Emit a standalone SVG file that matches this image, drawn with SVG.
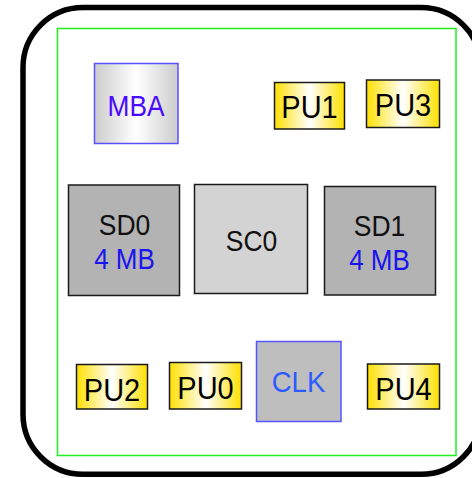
<svg xmlns="http://www.w3.org/2000/svg" width="472" height="478" viewBox="0 0 472 478">
  <defs>
    <linearGradient id="gradGold" x1="0" y1="0" x2="1" y2="0">
      <stop offset="0" stop-color="#ffe000"/>
      <stop offset="0.5" stop-color="#ffffff"/>
      <stop offset="1" stop-color="#ffe000"/>
    </linearGradient>
    <linearGradient id="gradSilver" x1="0" y1="0" x2="1" y2="0">
      <stop offset="0" stop-color="#cccccc"/>
      <stop offset="0.5" stop-color="#ffffff"/>
      <stop offset="1" stop-color="#cccccc"/>
    </linearGradient>
  </defs>
  <style>
    text { font-family: "Liberation Sans", Arial, sans-serif; text-anchor: middle; }
    .pu rect { fill: url(#gradGold); stroke: #1a1a1a; stroke-width: 1.5; }
    .pu text { font-size: 29px; fill: #000000; }
    .sd rect { fill: #b3b3b3; stroke: #1a1a1a; stroke-width: 1.5; }
    .lbl { font-size: 26.5px; fill: #111111; }
    .cap { font-size: 26px; fill: #1a14f0; }
  </style>

  <!-- board outline -->
  <rect x="23" y="7.5" width="458" height="466.8" rx="60" ry="60" fill="#ffffff" stroke="#000000" stroke-width="5.5"/>
  <!-- placement area -->
  <rect x="57.5" y="28.5" width="398.5" height="427" fill="none" stroke="#1ef01e" stroke-width="1.5"/>

  <g id="connectors"></g>

  <!-- labels are drawn slightly tall: each text sits at its baseline point, stretched vertically -->
  <g id="MBA">
    <rect x="94.5" y="63.5" width="83.5" height="80" fill="url(#gradSilver)" stroke="#5a50ff" stroke-width="1.5"/>
    <text transform="translate(136,116) scale(1,1.1)" font-size="27" fill="#4a0aff" textLength="57" lengthAdjust="spacingAndGlyphs">MBA</text>
  </g>

  <g id="PU1" class="pu">
    <rect x="274.5" y="82.5" width="70" height="46.5"/>
    <text transform="translate(309.5,118) scale(1,1.1)">PU1</text>
  </g>

  <g id="PU3" class="pu">
    <rect x="366.5" y="80" width="73" height="47.5"/>
    <text transform="translate(403,115.5) scale(1,1.1)">PU3</text>
  </g>

  <g id="SD0" class="sd">
    <rect x="68.5" y="185" width="111" height="110.5"/>
    <text class="lbl" transform="translate(124.5,235) scale(1,1.1)">SD0</text>
    <text class="cap" transform="translate(124.5,268.5) scale(1,1.1)">4 MB</text>
  </g>

  <g id="SC0">
    <rect x="194.5" y="184.5" width="113" height="109" fill="#d3d3d3" stroke="#1a1a1a" stroke-width="1.5"/>
    <text class="lbl" transform="translate(251.5,251) scale(1,1.1)">SC0</text>
  </g>

  <g id="SD1" class="sd">
    <rect x="324.5" y="186.5" width="111" height="108.5"/>
    <text class="lbl" transform="translate(379.5,236) scale(1,1.1)">SD1</text>
    <text class="cap" transform="translate(379.5,270) scale(1,1.1)">4 MB</text>
  </g>

  <g id="PU2" class="pu">
    <rect x="76.5" y="364.5" width="71" height="44.5"/>
    <text transform="translate(112,401) scale(1,1.1)">PU2</text>
  </g>

  <g id="PU0" class="pu">
    <rect x="169.5" y="362.5" width="72" height="46.5"/>
    <text transform="translate(205.5,398.5) scale(1,1.1)">PU0</text>
  </g>

  <g id="CLK">
    <rect x="256.5" y="341.5" width="84.5" height="80" fill="#bebebe" stroke="#5555ff" stroke-width="1.5"/>
    <text transform="translate(298.5,392) scale(1,1.1)" font-size="27.5" fill="#2d5bff">CLK</text>
  </g>

  <g id="PU4" class="pu">
    <rect x="367.5" y="364" width="72" height="45"/>
    <text transform="translate(403.5,400) scale(1,1.1)">PU4</text>
  </g>
</svg>
